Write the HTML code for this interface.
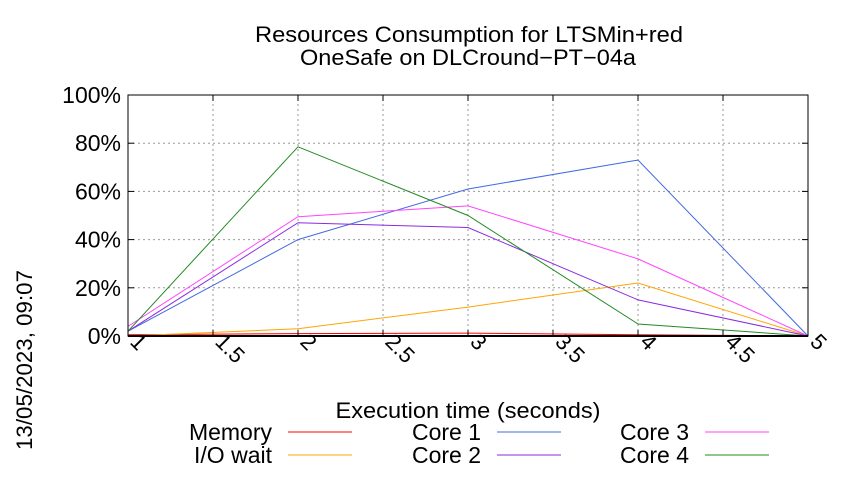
<!DOCTYPE html>
<html><head><meta charset="utf-8"><style>
body{margin:0;background:#fff}
svg{font-family:"Liberation Sans",sans-serif}
</style></head><body>
<svg id="chart" width="850" height="475" xmlns="http://www.w3.org/2000/svg">
<rect width="850" height="475" fill="#fff"/>
<text x="469" y="42" font-size="22" text-anchor="middle" textLength="428" lengthAdjust="spacingAndGlyphs">Resources Consumption for LTSMin+red</text>
<text x="468" y="65" font-size="22" text-anchor="middle" textLength="336" lengthAdjust="spacingAndGlyphs">OneSafe on DLCround−PT−04a</text>
<text transform="translate(32,450) rotate(-90)" font-size="22" textLength="180" lengthAdjust="spacingAndGlyphs">13/05/2023, 09:07</text>
<text x="468" y="418" font-size="22" text-anchor="middle" textLength="265" lengthAdjust="spacingAndGlyphs">Execution time (seconds)</text>
<g id="grid"></g><g id="series"></g><g id="axes"></g><g id="legend"></g>
</svg>
<script>
const xValues=[1,2,3,4,5];
const xTicks=[1,1.5,2,2.5,3,3.5,4,4.5,5];
const xTickLabels=["1","1.5","2","2.5","3","3.5","4","4.5","5"];
const yTicks=[0,20,40,60,80,100];
const yTickLabels=["0%","20%","40%","60%","80%","100%"];
const seriesNames=["Memory","I/O wait","Core 1","Core 2","Core 3","Core 4"];
const memory=[0.5,1,1.2,0.5,0];
const ioWait=[0,3,12,22,0];
const core1=[2,40,61,73,0];
const core2=[2,47,45,15,0];
const core3=[4,49.5,54,32,0];
const core4=[2,78.5,50,5,0];
const colors=["#ff0000","#ffa500","#4169e1","#8a2be2","#ff44ff","#228b22"];
const allSeries=[memory,ioWait,core1,core2,core3,core4];
const X0=128,X1=808,Y0=336,Y1=95;
const sx=v=>X0+(v-1)/(5-1)*(X1-X0);
const sy=v=>Y0-v/100*(Y0-Y1);
const NS="http://www.w3.org/2000/svg";
function mk(tag,attrs,parent){const e=document.createElementNS(NS,tag);for(const k in attrs)e.setAttribute(k,attrs[k]);parent.appendChild(e);return e;}
const grid=document.getElementById('grid'),axes=document.getElementById('axes'),ser=document.getElementById('series'),leg=document.getElementById('legend');
yTicks.forEach((t,i)=>{const y=sy(t);
 if(t>0&&t<100){const l=mk('line',{x1:X0,x2:X1,y1:y,y2:y,stroke:'#999','stroke-dasharray':'2,3','stroke-width':1},grid);}
 const tx=mk('text',{x:X0-7,y:y+8,'font-size':23,'text-anchor':'end'},axes);tx.textContent=yTickLabels[i];
 
 mk('line',{x1:X0,x2:X0+6,y1:y,y2:y,stroke:'#000'},axes);mk('line',{x1:X1,x2:X1-6,y1:y,y2:y,stroke:'#000'},axes);
});
xTicks.forEach((t,i)=>{const x=sx(t);
 if(t>1&&t<5){const l=mk('line',{x1:x,x2:x,y1:Y0,y2:Y1,stroke:'#999','stroke-dasharray':'2,3','stroke-width':1},grid);}
 const tx=mk('text',{transform:`translate(${x+1},${Y0+7}) rotate(45)`,'font-size':22},axes);tx.textContent=xTickLabels[i];
 
 mk('line',{x1:x,x2:x,y1:Y0,y2:Y0-6,stroke:'#000'},axes);mk('line',{x1:x,x2:x,y1:Y1,y2:Y1+6,stroke:'#000'},axes);
});
const fr=mk('rect',{x:X0,y:Y1,width:X1-X0,height:Y0-Y1,fill:'none',stroke:'#000','stroke-width':1},axes);

const bl=mk('line',{x1:X0,x2:X1,y1:Y0,y2:Y0,stroke:'#000','stroke-width':2},axes);

allSeries.forEach((s,i)=>{
 const p=mk('polyline',{points:s.map((v,j)=>sx(xValues[j])+','+sy(v)).join(' '),fill:'none',stroke:colors[i],'stroke-width':1},ser);
 
 
});
const legTextX=[272,481,689],legY=[440,463];
seriesNames.forEach((n,i)=>{const c=Math.floor(i/2),r=i%2;
 const g=mk('g',{},leg);
 
 
 const t=mk('text',{x:legTextX[c],y:legY[r],'font-size':23,'text-anchor':'end'},g);t.textContent=n;
 mk('line',{x1:legTextX[c]+16,x2:legTextX[c]+80,y1:legY[r]-8,y2:legY[r]-8,stroke:colors[i],'stroke-width':1},g);
});
</script>
</body></html>
